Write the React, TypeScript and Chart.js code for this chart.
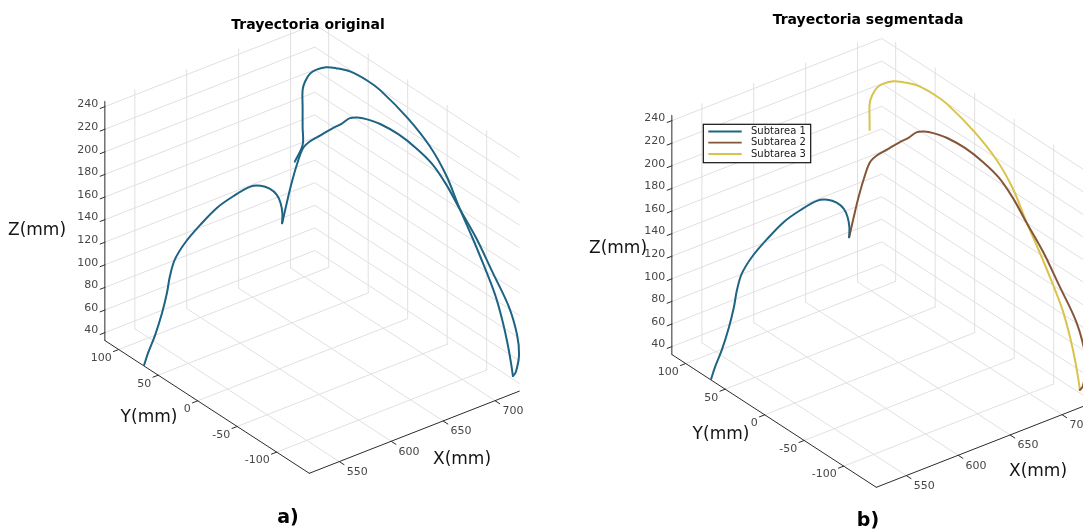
import React, { useEffect, useRef } from "react";
import { Chart, registerables } from "chart.js";

Chart.register(...registerables);

const CANVAS_W = 1083;
const CANVAS_H = 531;

// ---- axis limits and ticks (mm) ----
const xLimits = [521.1, 723.4];
const yLimits = [-141.3, 117.5];
const zLimits = [33, 244.7];
const xTicks = [550, 600, 650, 700];
const yTicks = [-100, -50, 0, 50, 100];
const zTicks = [40, 60, 80, 100, 120, 140, 160, 180, 200, 220, 240];

// ---- trajectory, Subtarea 1 (mm) ----
const sub1X = [522, 525, 531, 537, 541, 543, 547, 556, 569, 584, 598, 613, 622, 630, 636, 639, 640, 639];
const sub1Y = [69, 68, 67, 66, 65, 64, 63, 62, 60, 58, 56, 54, 53, 52, 51, 50, 49, 48];
const sub1Z = [33, 43, 57, 75, 92, 106, 120, 132, 144, 155, 161, 165, 163, 158, 151, 143, 134, 126];

// ---- trajectory, Subtarea 2 (mm) ----
const sub2X = [639, 642, 645, 649, 653, 658, 666, 675, 681, 686, 690, 695, 703, 706, 708, 710, 712, 714, 717, 720, 722, 723, 723.4, 721, 719];
const sub2Y = [48, 46, 44, 42, 40, 38, 35, 31, 28, 24, 20, 15, 8, -11, -31, -48, -63.5, -77, -95, -112, -130, -139, -141, -140, -139];
const sub2Z = [126, 144, 161, 178, 191, 196, 200, 205, 208, 213, 214, 213, 209, 207.5, 203.5, 197, 185, 170, 150, 126, 103, 82, 65, 50, 47];

// ---- trajectory, Subtarea 3 (mm) ----
const sub3X = [719, 718, 717, 716, 715, 713, 711, 709, 707, 705, 704, 704.5, 703, 698, 691, 686, 679, 675, 671, 669, 669, 669];
const sub3Y = [-139, -138, -135, -130, -122, -110, -98, -84, -70, -52, -25.5, 10, 25, 39, 48, 54, 57, 60, 61, 61.5, 61.5, 61.5];
const sub3Z = [47, 58, 74, 92, 112, 134, 154, 175, 198, 216, 229, 237.5, 240, 243, 244.5, 244.5, 243.5, 240, 234, 227, 212, 204];

// ---- last samples present only in the original (unsegmented) trajectory ----
const tailX = [669, 669, 661.5];
const tailY = [61.5, 61.5, 61.5];
const tailZ = [194.5, 178.3, 166.3];

const seriesNames = ["Subtarea 1", "Subtarea 2", "Subtarea 3"];
const seriesColors = ["#1f6482", "#855538", "#d9c34b"];
const originalColor = "#1d6383";

// ---- view (orthographic projection, pixels per mm) ----
const VIEW = {
  ox: 309.3,
  oy: 473.3,
  ex: [1.038, -0.406],
  ey: [-0.79, -0.513],
  ez: [0, -1.13],
};

type Panel = {
  dx: number;
  dy: number;
  title: string;
  titleX: number;
  titleY: number;
  tag: string;
  tagX: number;
  tagY: number;
  zLabel: [number, number];
  yLabel: [number, number];
  xLabel: [number, number];
  segmented: boolean;
};

const panels: Panel[] = [
  {
    dx: 0, dy: 0,
    title: "Trayectoria original", titleX: 308, titleY: 25,
    tag: "a)", tagX: 288, tagY: 518,
    zLabel: [37, 231], yLabel: [149, 418], xLabel: [462, 460],
    segmented: false,
  },
  {
    dx: 567, dy: 14,
    title: "Trayectoria segmentada", titleX: 868, titleY: 20,
    tag: "b)", tagX: 868, tagY: 521,
    zLabel: [618, 249], yLabel: [721, 435], xLabel: [1038, 472],
    segmented: true,
  },
];

// legend box (relative to panel offset)
const LEGEND = { x: 136.3, y: 110.3, w: 107.4, h: 38.4, lineX0: 141.3, lineX1: 174.7, textX: 184, rows: [117.5, 128.7, 140] };

function proj(p: Panel, x: number, y: number, z: number) {
  const a = x - xLimits[0];
  const b = y - yLimits[0];
  const c = z - zLimits[0];
  return {
    x: p.dx + VIEW.ox + a * VIEW.ex[0] + b * VIEW.ey[0] + c * VIEW.ez[0],
    y: p.dy + VIEW.oy + a * VIEW.ex[1] + b * VIEW.ey[1] + c * VIEW.ez[1],
  };
}

function lineDs(points: { x: number; y: number }[], color: string, width: number, order: number, tension = 0) {
  return {
    data: points,
    showLine: true,
    borderColor: color,
    backgroundColor: color,
    borderWidth: width,
    pointRadius: 0,
    pointHoverRadius: 0,
    tension,
    fill: false,
    order,
    borderCapStyle: "round",
    borderJoinStyle: "round",
  } as any;
}

function trajectory(p: Panel, xs: number[], ys: number[], zs: number[]) {
  return xs.map((x, i) => proj(p, x, ys[i], zs[i]));
}

function buildDatasets() {
  const ds: any[] = [];
  const GRID = "#e0e0e0";
  const AXIS = "#2b2b2b";
  const [x0, x1] = xLimits;
  const [y0, y1] = yLimits;
  const [z0, z1] = zLimits;
  for (const p of panels) {
    // floor grid
    for (const xt of xTicks) ds.push(lineDs([proj(p, xt, y0, z0), proj(p, xt, y1, z0)], GRID, 1, 10));
    for (const yt of yTicks) ds.push(lineDs([proj(p, x0, yt, z0), proj(p, x1, yt, z0)], GRID, 1, 10));
    // back walls
    for (const xt of xTicks) ds.push(lineDs([proj(p, xt, y1, z0), proj(p, xt, y1, z1)], GRID, 1, 10));
    for (const yt of yTicks) ds.push(lineDs([proj(p, x1, yt, z0), proj(p, x1, yt, z1)], GRID, 1, 10));
    for (const zt of zTicks)
      ds.push(lineDs([proj(p, x0, y1, zt), proj(p, x1, y1, zt), proj(p, x1, y0, zt)], GRID, 1, 10));
    // axes
    ds.push(lineDs([proj(p, x0, y1, z0), proj(p, x0, y1, z1)], AXIS, 1, 5));
    ds.push(lineDs([proj(p, x0, y0, z0), proj(p, x0, y1, z0)], AXIS, 1, 5));
    ds.push(lineDs([proj(p, x0, y0, z0), proj(p, x1, y0, z0)], AXIS, 1, 5));
    // tick marks
    for (const zt of zTicks) ds.push(lineDs([proj(p, x0, y1, zt), proj(p, x0 - 4.5, y1, zt)], AXIS, 1, 5));
    for (const yt of yTicks) ds.push(lineDs([proj(p, x0, yt, z0), proj(p, x0 - 5, yt, z0)], AXIS, 1, 5));
    for (const xt of xTicks) ds.push(lineDs([proj(p, xt, y0, z0), proj(p, xt, y0 - 6, z0)], AXIS, 1, 5));

    // trajectory
    if (!p.segmented) {
      ds.push(lineDs(trajectory(p, sub1X, sub1Y, sub1Z), originalColor, 2, 0, 0.35));
      ds.push(lineDs(trajectory(p, sub2X, sub2Y, sub2Z), originalColor, 2, 0, 0.35));
      ds.push(
        lineDs(
          trajectory(p, sub3X.concat(tailX), sub3Y.concat(tailY), sub3Z.concat(tailZ)),
          originalColor, 2, 0, 0.35
        )
      );
    } else {
      ds.push(lineDs(trajectory(p, sub1X, sub1Y, sub1Z), seriesColors[0], 2, 0, 0.35));
      ds.push(lineDs(trajectory(p, sub2X, sub2Y, sub2Z), seriesColors[1], 2, 0, 0.35));
      ds.push(lineDs(trajectory(p, sub3X, sub3Y, sub3Z), seriesColors[2], 2, 0, 0.35));
    }
  }
  return ds;
}

const FONT = "'DejaVu Sans', 'Liberation Sans', sans-serif";

const textPlugin = {
  id: "figureTexts",
  afterDraw(chart: any) {
    const ctx: CanvasRenderingContext2D = chart.ctx;
    const sx = chart.scales.x;
    const sy = chart.scales.y;
    const px = (pt: { x: number; y: number }) => ({ x: sx.getPixelForValue(pt.x), y: sy.getPixelForValue(pt.y) });
    const [x0] = xLimits;
    const [y0, y1] = yLimits;
    const [z0] = zLimits;
    ctx.save();
    for (const p of panels) {
      // titles
      ctx.fillStyle = "#000";
      ctx.font = `bold 14px ${FONT}`;
      ctx.textAlign = "center";
      ctx.textBaseline = "middle";
      let q = px({ x: p.titleX, y: p.titleY });
      ctx.fillText(p.title, q.x, q.y);
      ctx.font = `bold 19px ${FONT}`;
      q = px({ x: p.tagX, y: p.tagY });
      ctx.fillText(p.tag, q.x, q.y);

      // tick labels
      ctx.font = `11px ${FONT}`;
      ctx.fillStyle = "#474747";
      ctx.textAlign = "right";
      for (const zt of zTicks) {
        const t = px(proj(p, x0, y1, zt));
        ctx.fillText(String(zt), t.x - 6.5, t.y - 2);
      }
      for (const yt of yTicks) {
        const t = px(proj(p, x0, yt, z0));
        ctx.fillText(String(yt), t.x - 7, t.y + 8.5);
      }
      ctx.textAlign = "left";
      for (const xt of xTicks) {
        const t = px(proj(p, xt, y0, z0));
        ctx.fillText(String(xt), t.x + 7.4, t.y + 10.6);
      }

      // axis labels
      ctx.font = `17px ${FONT}`;
      ctx.fillStyle = "#151515";
      ctx.textAlign = "center";
      q = px({ x: p.zLabel[0], y: p.zLabel[1] });
      ctx.fillText("Z(mm)", q.x, q.y);
      q = px({ x: p.yLabel[0], y: p.yLabel[1] });
      ctx.fillText("Y(mm)", q.x, q.y);
      q = px({ x: p.xLabel[0], y: p.xLabel[1] });
      ctx.fillText("X(mm)", q.x, q.y);

      // legend
      if (p.segmented) {
        const tl = px({ x: p.dx + LEGEND.x, y: p.dy + LEGEND.y });
        const br = px({ x: p.dx + LEGEND.x + LEGEND.w, y: p.dy + LEGEND.y + LEGEND.h });
        ctx.fillStyle = "#fff";
        ctx.fillRect(tl.x, tl.y, br.x - tl.x, br.y - tl.y);
        ctx.strokeStyle = "#111";
        ctx.lineWidth = 1.2;
        ctx.strokeRect(tl.x, tl.y, br.x - tl.x, br.y - tl.y);
        ctx.font = `10px ${FONT}`;
        ctx.textAlign = "left";
        LEGEND.rows.forEach((ry, i) => {
          const a = px({ x: p.dx + LEGEND.lineX0, y: p.dy + ry });
          const b = px({ x: p.dx + LEGEND.lineX1, y: p.dy + ry });
          ctx.strokeStyle = seriesColors[i];
          ctx.lineWidth = 1.8;
          ctx.beginPath();
          ctx.moveTo(a.x, a.y);
          ctx.lineTo(b.x, b.y);
          ctx.stroke();
          const t = px({ x: p.dx + LEGEND.textX, y: p.dy + ry });
          ctx.fillStyle = "#1a1a1a";
          ctx.fillText(seriesNames[i], t.x, t.y);
        });
      }
    }
    ctx.restore();
  },
};

export default function App() {
  const canvasRef = useRef<HTMLCanvasElement | null>(null);

  useEffect(() => {
    const canvas = canvasRef.current;
    if (!canvas) return;
    const chart = new Chart(canvas, {
      type: "scatter",
      data: { datasets: buildDatasets() },
      options: {
        responsive: false,
        maintainAspectRatio: false,
        animation: false,
        events: [],
        layout: { padding: 0 },
        plugins: {
          legend: { display: false },
          tooltip: { enabled: false },
          title: { display: false },
        },
        scales: {
          x: { type: "linear", min: 0, max: CANVAS_W, display: false },
          y: { type: "linear", min: 0, max: CANVAS_H, reverse: true, display: false },
        },
      },
      plugins: [textPlugin],
    } as any);
    return () => chart.destroy();
  }, []);

  return (
    <div
      style={{
        position: "fixed",
        left: 0,
        top: 0,
        width: CANVAS_W,
        height: CANVAS_H,
        background: "#fff",
      }}
    >
      <canvas ref={canvasRef} width={CANVAS_W} height={CANVAS_H} style={{ display: "block" }} />
    </div>
  );
}
